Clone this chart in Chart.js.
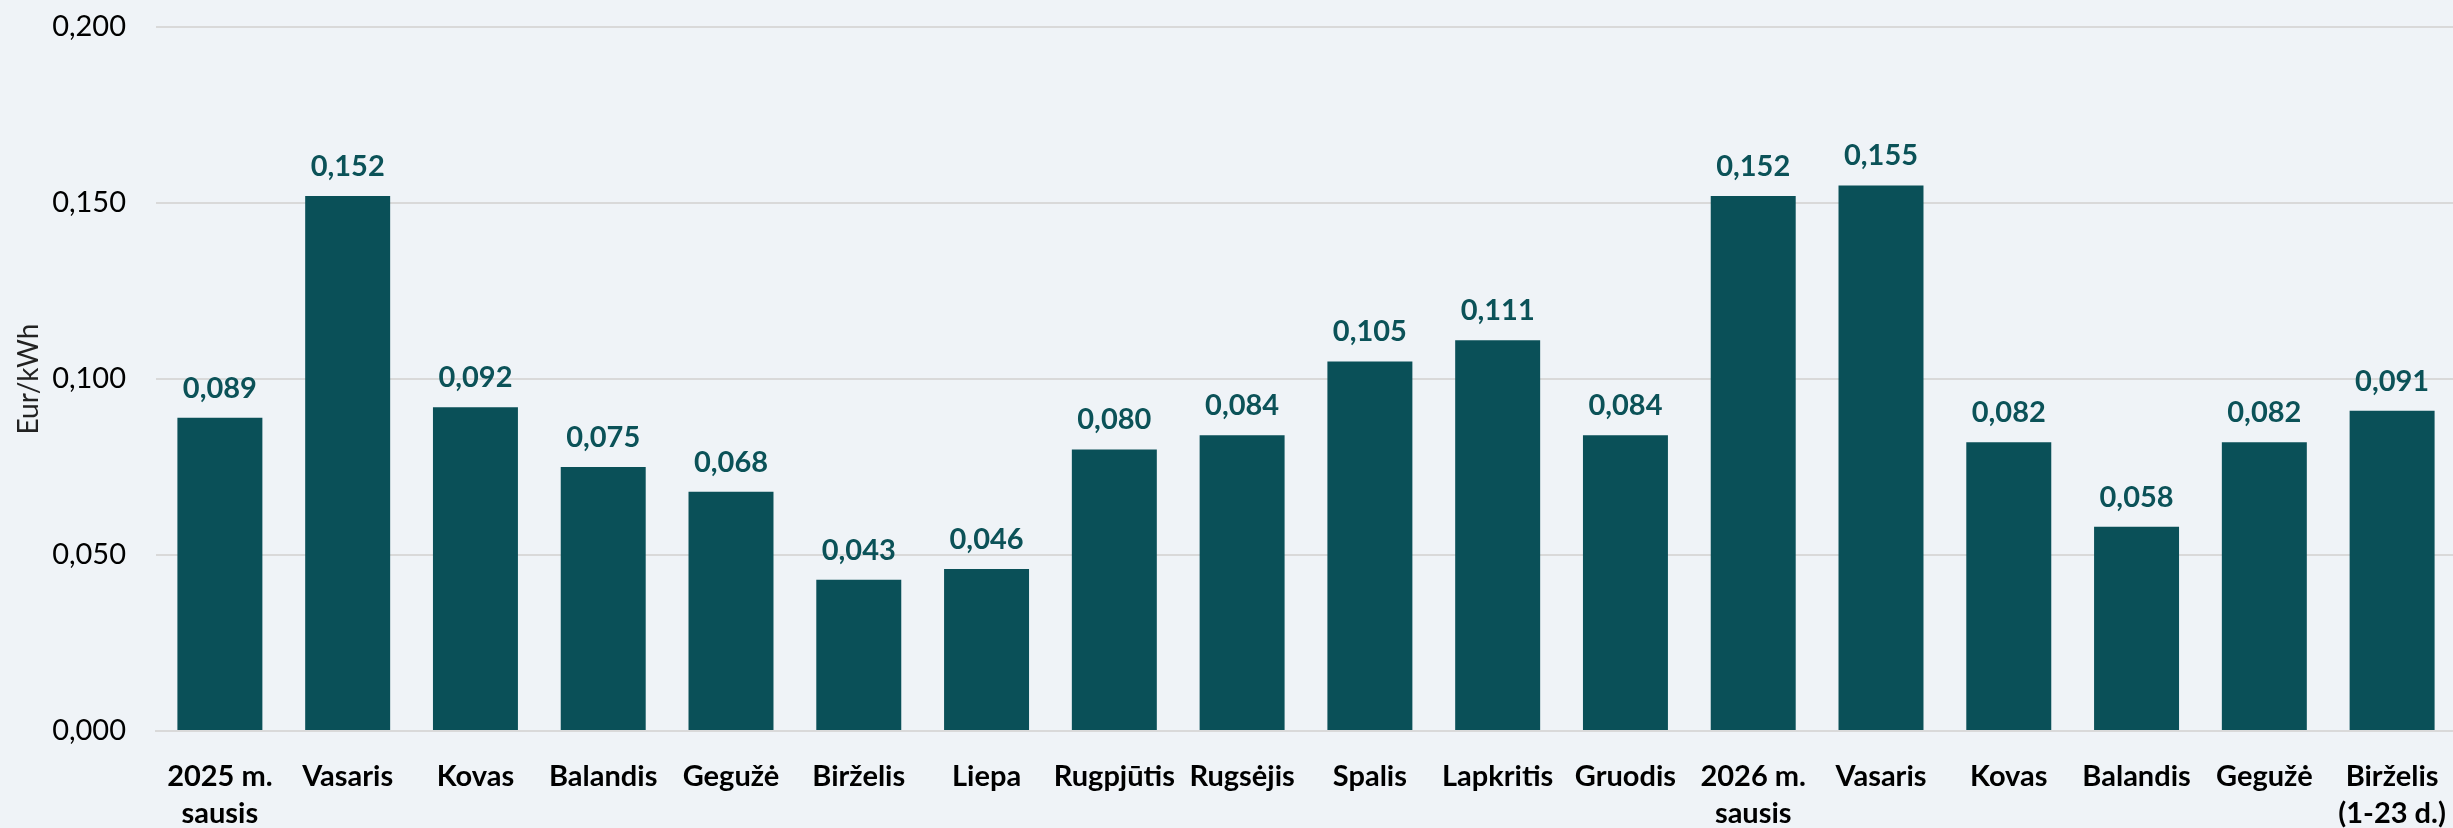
<!DOCTYPE html>
<html>
<head>
<meta charset="utf-8">
<script src="https://cdn.jsdelivr.net/npm/chart.js@4.4.1/dist/chart.umd.min.js"></script>
<style>
  html, body { margin: 0; padding: 0; background: #eff3f7; overflow: hidden; }
  #wrap { width: 2456px; height: 828px; position: relative; }
</style>
</head>
<body>
<div id="wrap"><canvas id="priceChart"></canvas></div>
<script>
const months = [
    ['2025 m.', 'sausis'], 'Vasaris', 'Kovas', 'Balandis', 'Gegužė', 'Birželis',
    'Liepa', 'Rugpjūtis', 'Rugsėjis', 'Spalis', 'Lapkritis', 'Gruodis',
    ['2026 m.', 'sausis'], 'Vasaris', 'Kovas', 'Balandis', 'Gegužė', ['Birželis', '(1-23 d.)']
];
const prices = [
    0.089, 0.152, 0.092, 0.075, 0.068, 0.043,
    0.046, 0.080, 0.084, 0.105, 0.111, 0.084,
    0.152, 0.155, 0.082, 0.058, 0.082, 0.091
];
const yTicks = [0, 0.05, 0.1, 0.15, 0.2];

const fmt = v => v.toFixed(3).replace('.', ',');

// draws the value above each bar
const valueLabels = {
    id: 'valueLabels',
    afterDatasetsDraw(chart) {
        const ctx = chart.ctx;
        const meta = chart.getDatasetMeta(0);
        ctx.save();
        ctx.font = 'bold 29px Lato';
        ctx.fillStyle = '#0b5258';
        ctx.textAlign = 'center';
        ctx.textBaseline = 'alphabetic';
        meta.data.forEach((bar, i) => {
            ctx.fillText(fmt(prices[i]), bar.x, bar.y - 20);
        });
        ctx.restore();
    }
};

const ctx = document.getElementById('priceChart').getContext('2d');
const chart = new Chart(ctx, {
    type: 'bar',
    data: {
        labels: months,
        datasets: [{
            data: prices,
            backgroundColor: '#0a5058',
            borderWidth: 0,
            barPercentage: 0.665,
            categoryPercentage: 1
        }]
    },
    options: {
        responsive: true,
        maintainAspectRatio: false,
        animation: false,
        devicePixelRatio: 1,
        layout: { padding: { top: 27, right: 0, left: 0, bottom: 0 } },
        plugins: {
            legend: { display: false },
            tooltip: { enabled: false }
        },
        scales: {
            x: {
                grid: { display: false, drawTicks: false },
                border: { display: true, color: '#d9d9d9', width: 2 },
                ticks: {
                    color: '#000',
                    font: { family: 'Lato', size: 29, weight: 'bold', lineHeight: 1.25 },
                    padding: 28,
                    maxRotation: 0,
                    autoSkip: false
                },
                afterFit(scale) {
                    scale.height = 97;
                    scale.paddingLeft = 0;
                    scale.paddingRight = 0;
                }
            },
            y: {
                min: 0,
                max: 0.2,
                afterBuildTicks(scale) { scale.ticks = yTicks.map(v => ({ value: v })); },
                grid: { color: '#d9d9d9', lineWidth: 2, drawTicks: false },
                border: { display: false },
                ticks: {
                    color: '#000',
                    font: { family: 'Lato', size: 29 },
                    padding: 30,
                    callback: v => fmt(v)
                },
                title: {
                    display: true,
                    text: 'Eur/kWh',
                    color: '#222',
                    font: { family: 'Lato', size: 28 },
                    padding: { top: 12, bottom: 0 }
                },
                afterFit(scale) {
                    scale.width = 156;
                    scale.paddingTop = 0;
                    scale.paddingBottom = 0;
                }
            }
        }
    },
    plugins: [valueLabels]
});
</script>
</body>
</html>
